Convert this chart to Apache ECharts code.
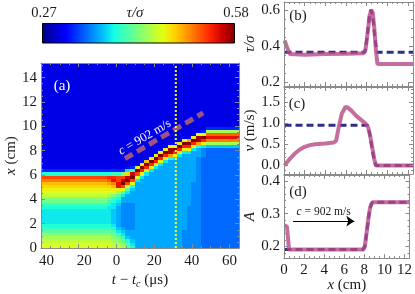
<!DOCTYPE html>
<html>
<head>
<meta charset="utf-8">
<script src="https://cdn.jsdelivr.net/npm/echarts@6.0.0/dist/echarts.min.js"></script>
<style>
html,body{margin:0;padding:0;background:#ffffff;}
#chart{width:415px;height:294px;}
</style>
</head>
<body>
<div id="chart"></div>
<script>
// ================= Panel (a): tau/sigma field =================
// each character = 0.27 + 0.01 * (its index in tauLevelChars)
const tauLevelChars = "0123456789abcdefghijklmnopqrstuv";
const tauMin = 0.27, tauMax = 0.58;
// time span of each field column (microseconds)
const fieldT0 = [-40, -5, -2.5, 0, 2.5, 5, 7.5, 10, 12.5, 15, 17.5, 20, 22.5, 25, 27.5, 30, 32.5, 35, 37.5, 40, 42.5, 45, 47.5];
const fieldT1 = [-5, -2.5, 0, 2.5, 5, 7.5, 10, 12.5, 15, 17.5, 20, 22.5, 25, 27.5, 30, 32.5, 35, 37.5, 40, 42.5, 45, 47.5, 65];
// rows of 0.25 cm from x = 0 upward (first char = bottom row); spaces only group rows by ten
const fieldRowHeight = 0.25;
const fieldColumns = [
  "jjihgedcbb bbbcdfgijk lmoqc53333 3333333333 3333333333 3333333333 3",
  "jjihgedcbb bbbbcdfhjk lnprc53333 3333333333 3333333333 3333333333 3",
  "iihgfecbaa aaabbcdgjk mosrd53333 3333333333 3333333333 3333333333 3",
  "ihgfdba999 9999abcehk ssqqd53333 3333333333 3333333333 3333333333 3",
  "hgfdba9888 8888899bej qvtqg53333 3333333333 3333333333 3333333333 3",
  "feca998888 88888999be jqvtlb4333 3333333333 3333333333 3333333333 3",
  "cba9998888 888889999a cjqvtd5333 3333333333 3333333333 3333333333 3",
  "9999999999 9999999999 99bjqvk433 3333333333 3333333333 3333333333 3",
  "9999999999 9999999999 999bkrvk43 3333333333 3333333333 3333333333 3",
  "9999999999 9999999999 9999bkrvm4 3333333333 3333333333 3333333333 3",
  "9999999999 9999999999 99999bkrvk 4333333333 3333333333 3333333333 3",
  "9999999999 9999999999 999999bkrv k433333333 3333333333 3333333333 3",
  "9999999999 9999999999 9999999bkr vk43333333 3333333333 3333333333 3",
  "9999999999 9999999999 99999999bk rvk4333333 3333333333 3333333333 3",
  "9999999999 9999999999 999999999c nuuj433333 3333333333 3333333333 3",
  "9999999999 9999999999 999999999b krvk433333 3333333333 3333333333 3",
  "9999999999 9999999999 9999999999 bkrvk43333 3333333333 3333333333 3",
  "8888889999 9999999999 9999999999 9bkrvk4333 3333333333 3333333333 3",
  "8888888888 8888999999 9999999999 9bkrvn4333 3333333333 3333333333 3",
  "8888888888 8888888888 8899999999 99bkrvk433 3333333333 3333333333 3",
  "8888888888 8888888888 8888888888 999cnuuj43 3333333333 3333333333 3",
  "7777777777 7777777777 7777777777 888bkrvk53 3333333333 3333333333 3",
  "7777777777 7777777777 7777777777 777ahosph5 3333333333 3333333333 3"
];
// overlays of panel (a)
const waveLineT = [4.5, 46];      // c = 902 m/s guide line (t, microseconds)
const waveLineX = [7.35, 11.1];   // (x, cm)
const waveLabelAt = [15.0, 9.1];
const probeTime = 31.5;           // yellow dotted line

// ================= Panels (b)-(d): profiles versus x (cm) =================
const tauSimX = [0.05, 0.2, 0.55, 2, 4, 6, 7.7, 7.9, 8.1, 8.3, 8.45, 8.6, 8.75, 8.9, 9.05, 12.5];
const tauSimY = [0.43, 0.42, 0.355, 0.352, 0.355, 0.357, 0.36, 0.38, 0.47, 0.57, 0.6, 0.585, 0.5, 0.38, 0.30, 0.30];
const tauThX = [0.05, 7.85, 8.05, 8.3, 8.45, 8.6, 8.8, 9.0, 12.5];
const tauThY = [0.365, 0.365, 0.45, 0.58, 0.6, 0.56, 0.45, 0.365, 0.365];

const vSimX = [0.05, 0.5, 1.0, 1.5, 2.0, 2.5, 3.0, 4.0, 4.8, 5.05, 5.3, 5.6, 5.95, 6.15, 6.5, 7.0, 7.5, 7.9, 8.15, 8.35, 8.55, 8.75, 8.9, 12.5];
const vSimY = [0.0, 0.14, 0.27, 0.37, 0.44, 0.48, 0.5, 0.52, 0.54, 0.58, 0.9, 1.22, 1.38, 1.37, 1.3, 1.17, 1.07, 0.99, 0.9, 0.7, 0.42, 0.15, 0.0, 0.0];
const vThX = [0.05, 8.1, 8.3, 8.5, 8.7, 8.9, 12.5];
const vThY = [0.95, 0.95, 0.75, 0.45, 0.17, 0.0, 0.0];

const aSimX = [0.05, 0.3, 0.5, 7.9, 8.05, 8.2, 8.4, 8.55, 8.7, 8.9, 12.5];
const aSimY = [0.265, 0.26, 0.19, 0.19, 0.2, 0.235, 0.285, 0.315, 0.33, 0.335, 0.335];
const aThX = [0.05, 7.85, 8.05, 8.25, 8.45, 8.6, 8.8, 12.5];
const aThY = [0.19, 0.19, 0.2, 0.245, 0.295, 0.32, 0.335, 0.335];
const arrowFrom = [0.9, 0.277];
const arrowTo = [7.0, 0.277];

// ================= tick labels =================
const aTimeTicks = [-40, -20, 0, 20, 40, 60];
const aPosTicks = [0, 2, 4, 6, 8, 10, 12, 14];
const rightXTicks = [0, 2, 4, 6, 8, 10, 12];
const bTicks = [0.2, 0.4, 0.6];
const cTicks = [0.0, 0.5, 1.0, 1.5];
const dTicks = [0.2, 0.3, 0.4];

// ================= styling =================
const FONT = '"Liberation Serif", "Times New Roman", serif';
const FRAME = '#8a8a8a';
const INK = '#1a1a1a';
const PINK = 'rgba(182, 72, 132, 0.8)';
const NAVY = '#2e2e8e';
const jet = ['#000080','#0000c8','#0000ff','#0040ff','#0080ff','#00bfff','#14ffe2','#48ffaf','#7bff7b','#afff48','#e2ff14','#ffd200','#ff9700','#ff5c00','#ff2100','#c80000','#800000'];

function minorList(from, to, step, majors) {
  const out = [];
  const n = Math.round((to - from) / step);
  for (let k = 0; k <= n; k++) {
    const v = Math.round((from + k * step) * 1000) / 1000;
    if (!majors.some(m => Math.abs(m - v) < 1e-6)) out.push(v);
  }
  return out;
}
function nameStyle() {
  return {
    fontFamily: FONT, fontSize: 15, color: INK,
    rich: {
      i: {fontStyle: 'italic', fontFamily: FONT, fontSize: 15, color: INK},
      s: {fontStyle: 'italic', fontFamily: FONT, fontSize: 10, color: INK, padding: [7, 0, 0, 0]}
    }
  };
}
const xAxes = [], yAxes = [];
function addAxes(list, dim, grid, min, max, majors, minors, label, nameOpt) {
  const near = dim === 'x' ? 'bottom' : 'left';
  const far = dim === 'x' ? 'top' : 'right';
  const common = {type: 'value', gridIndex: grid, min: min, max: max, z: 10, splitLine: {show: false}};
  const tick = (vals, len) => ({show: true, inside: true, length: len, customValues: vals, lineStyle: {color: FRAME, width: 1}});
  const line = (show) => ({show: show, onZero: false, lineStyle: {color: FRAME, width: 1}});
  const idx = list.length;
  list.push(Object.assign({}, common, {
    position: near,
    axisLine: line(true),
    axisTick: tick(majors, 4),
    axisLabel: label ? Object.assign({show: true, customValues: majors, fontFamily: FONT, fontSize: 15, color: INK}, label) : {show: false}
  }, nameOpt || {}));
  list.push(Object.assign({}, common, {position: near, axisLine: line(false), axisTick: tick(minors, 2), axisLabel: {show: false}}));
  list.push(Object.assign({}, common, {position: far, axisLine: line(true), axisTick: tick(majors, 4), axisLabel: {show: false}}));
  list.push(Object.assign({}, common, {position: far, axisLine: line(false), axisTick: tick(minors, 2), axisLabel: {show: false}}));
  return idx;
}

const AX = addAxes(xAxes, 'x', 0, -40, 65, aTimeTicks, minorList(-40, 65, 5, aTimeTicks), {
  margin: 5,
  formatter: v => v < 0 ? '{n|' + Math.abs(v) + '}' : String(v),
  rich: {n: {fontFamily: FONT, fontSize: 15, color: INK, padding: [0, 0, 0, 11]}}
}, {name: '{i|t} \u2212 {i|t}{s|c} (\u03bcs)', nameLocation: 'middle', nameGap: 20, nameTextStyle: nameStyle()});
const AY = addAxes(yAxes, 'y', 0, 0, 15.2, aPosTicks, minorList(0, 15, 0.5, aPosTicks), {margin: 4},
  {name: '{i|x} (cm)', nameLocation: 'middle', nameGap: 22, nameTextStyle: nameStyle()});

const BX = addAxes(xAxes, 'x', 1, 0, 12.5, rightXTicks, minorList(0, 12.5, 0.5, rightXTicks), null, null);
const BY = addAxes(yAxes, 'y', 1, 0.178, 0.644, bTicks, minorList(0.2, 0.6, 0.05, bTicks), {margin: 4, formatter: v => v.toFixed(1)},
  {name: '{i|\u03c4/\u03c3}', nameLocation: 'middle', nameGap: 26, nameTextStyle: nameStyle()});
const CX = addAxes(xAxes, 'x', 2, 0, 12.5, rightXTicks, minorList(0, 12.5, 0.5, rightXTicks), null, null);
const CY = addAxes(yAxes, 'y', 2, -0.2, 1.85, cTicks, minorList(-0.1, 1.8, 0.1, cTicks), {margin: 4, formatter: v => v.toFixed(1)},
  {name: '{i|v} (m/s)', nameLocation: 'middle', nameGap: 26, nameTextStyle: nameStyle()});
const DX = addAxes(xAxes, 'x', 3, 0, 12.5, rightXTicks, minorList(0, 12.5, 0.5, rightXTicks), {margin: 4},
  {name: '{i|x} (cm)', nameLocation: 'middle', nameGap: 18, nameTextStyle: nameStyle()});
const DY = addAxes(yAxes, 'y', 3, 0.164, 0.418, dTicks, minorList(0.18, 0.4, 0.02, dTicks), {margin: 4, formatter: v => v.toFixed(1)},
  {name: '{i|A}', nameLocation: 'middle', nameGap: 26, nameTextStyle: nameStyle()});

// field cells built from the column strings
const fieldCells = [];
fieldColumns.forEach((col, j) => {
  const s = col.replace(/ /g, '');
  for (let r = 0; r < s.length; r++) {
    const v = tauMin + 0.01 * tauLevelChars.indexOf(s[r]);
    fieldCells.push([fieldT0[j], fieldT1[j], r * fieldRowHeight, (r + 1) * fieldRowHeight, v]);
  }
});
const pairs = (xs, ys) => xs.map((x, i) => [x, ys[i]]);

const pinkLine = (xi, yi, xs, ys, extra) => Object.assign({
  type: 'line', xAxisIndex: xi, yAxisIndex: yi, data: pairs(xs, ys), symbol: 'none', z: 4,
  lineStyle: {color: PINK, width: 4}, silent: true
}, extra || {});
const navyLine = (xi, yi, xs, ys) => ({
  type: 'line', xAxisIndex: xi, yAxisIndex: yi, data: pairs(xs, ys), symbol: 'none', z: 3,
  lineStyle: {color: NAVY, width: 3, type: [7, 4]}, silent: true
});

const chart = echarts.init(document.getElementById('chart'));
chart.setOption({
  animation: false,
  backgroundColor: '#ffffff',
  grid: [
    {left: 41, top: 63, width: 198, height: 193},
    {left: 284, top: 2, width: 129, height: 84},
    {left: 284, top: 87, width: 129, height: 87},
    {left: 284, top: 175, width: 129, height: 84}
  ],
  xAxis: xAxes,
  yAxis: yAxes,
  visualMap: {type: 'continuous', show: false, min: tauMin, max: tauMax, dimension: 4, seriesIndex: 0, inRange: {color: jet}},
  series: [
    {
      type: 'custom', xAxisIndex: AX, yAxisIndex: AY, clip: true, silent: true, z: 1,
      encode: {x: [0, 1], y: [2, 3]},
      data: fieldCells,
      renderItem: function (params, api) {
        const p0 = api.coord([api.value(0), api.value(3)]);
        const p1 = api.coord([api.value(1), api.value(2)]);
        const x = Math.floor(p0[0]), y = Math.floor(p0[1]);
        return {type: 'rect', shape: {x: x, y: y, width: Math.ceil(p1[0]) - x, height: Math.ceil(p1[1]) - y},
          style: {fill: api.visual('color')}};
      }
    },
    {
      type: 'line', xAxisIndex: AX, yAxisIndex: AY, symbol: 'none', z: 5, silent: true,
      data: pairs(waveLineT, waveLineX),
      lineStyle: {color: 'rgba(168, 92, 122, 0.92)', width: 5, type: [9, 5]}
    },
    {
      type: 'line', xAxisIndex: AX, yAxisIndex: AY, symbol: 'none', z: 6, silent: true,
      data: [[probeTime, 0], [probeTime, 15.2]],
      lineStyle: {color: '#ffff00', width: 2, type: [2, 2]}
    },
    navyLine(BX, BY, tauThX, tauThY),
    pinkLine(BX, BY, tauSimX, tauSimY),
    navyLine(CX, CY, vThX, vThY),
    pinkLine(CX, CY, vSimX, vSimY),
    navyLine(DX, DY, aThX, aThY),
    pinkLine(DX, DY, aSimX, aSimY, {
      markLine: {
        silent: true, animation: false, symbol: ['none', 'arrow'], symbolSize: [8, 8],
        lineStyle: {color: '#000', width: 1.2, type: 'solid'},
        label: {show: true, position: 'middle', distance: 3, formatter: '{i|c} = 902 m/s',
          fontFamily: FONT, fontSize: 11.5, color: INK,
          rich: {i: {fontStyle: 'italic', fontFamily: FONT, fontSize: 11.5, color: INK}}},
        data: [[{coord: arrowFrom}, {coord: arrowTo}]]
      }
    })
  ]
});

// annotations
const toPx = p => chart.convertToPixel({xAxisIndex: AX, yAxisIndex: AY}, p);
const w0 = toPx([waveLineT[0], waveLineX[0]]);
const w1 = toPx([waveLineT[1], waveLineX[1]]);
const ang = Math.atan2(w0[1] - w1[1], w1[0] - w0[0]);
const wl = toPx(waveLabelAt);
const txt = (x, y, text, size, fill, italic) => ({
  type: 'text', x: x, y: y, z: 30, silent: true,
  style: {text: text, fontFamily: FONT, fontSize: size, fontStyle: italic ? 'italic' : 'normal', fill: fill,
    align: 'center', verticalAlign: 'middle', textAlign: 'center', textVerticalAlign: 'middle'}
});
chart.setOption({
  graphic: [
    {type: 'rect', z: 20, silent: true, shape: {x: 42.5, y: 23.5, width: 192, height: 19.5},
      style: {fill: {type: 'linear', x: 0, y: 0, x2: 1, y2: 0, colorStops: jet.map((c, i) => ({offset: i / (jet.length - 1), color: c}))},
        stroke: '#000', lineWidth: 1}},
    txt(44, 13, '0.27', 14.5, INK, false),
    txt(236, 13, '0.58', 14.5, INK, false),
    txt(135, 13, '\u03c4/\u03c3', 15, INK, true),
    txt(62, 86, '(a)', 15, '#ffffff', false),
    txt(298, 16, '(b)', 15, INK, false),
    txt(297, 104, '(c)', 15, INK, false),
    txt(298, 192, '(d)', 15, INK, false),
    {type: 'text', x: wl[0], y: wl[1], rotation: ang, z: 30, silent: true,
      style: {text: '{i|c} = 902 m/s', fontFamily: FONT, fontSize: 12.5, fill: '#ffffff',
        align: 'center', verticalAlign: 'middle', textAlign: 'center', textVerticalAlign: 'middle',
        rich: {i: {fontStyle: 'italic', fontFamily: FONT, fontSize: 12.5, fill: '#ffffff', color: '#ffffff'}}}}
  ]
});
</script>
</body>
</html>
